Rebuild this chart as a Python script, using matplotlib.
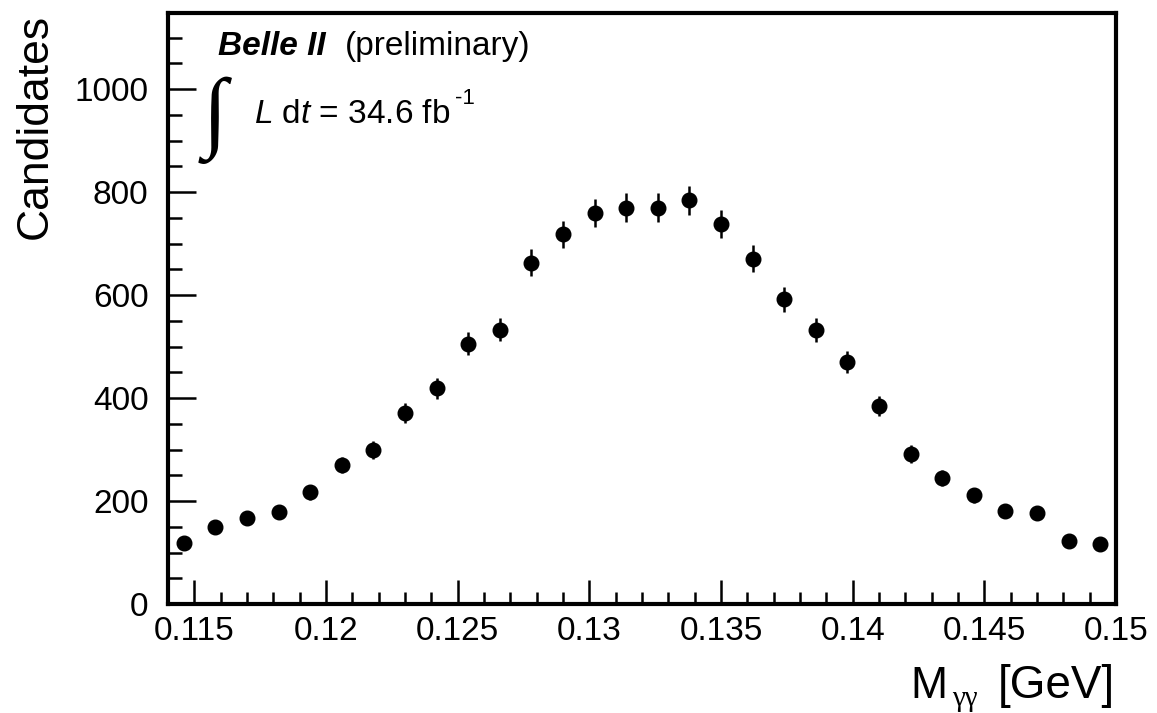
import numpy as np
import matplotlib
matplotlib.use("Agg")
import matplotlib.pyplot as plt
from matplotlib.ticker import MultipleLocator, FixedLocator

plt.rcParams['font.family'] = ['Liberation Sans', 'DejaVu Sans']
plt.rcParams['mathtext.fontset'] = 'custom'
plt.rcParams['mathtext.rm'] = 'Liberation Sans'
plt.rcParams['mathtext.it'] = 'Liberation Sans:italic'
plt.rcParams['mathtext.bf'] = 'Liberation Sans:bold'

# Diphoton invariant mass histogram: 30 bins of 1.2 MeV from 0.114 to 0.150 GeV
bin_lo = 0.114
bin_hi = 0.150
n_bins = 30
candidates = [118, 149, 167, 178, 217, 270, 299, 371, 419, 506,
              533, 663, 718, 760, 770, 770, 784, 739, 671, 592,
              532, 470, 384, 291, 244, 211, 180, 177, 122, 116]

x_major_ticks = [0.115, 0.12, 0.125, 0.13, 0.135, 0.14, 0.145, 0.15]
x_tick_labels = ["0.115", "0.12", "0.125", "0.13", "0.135", "0.14", "0.145", "0.15"]
y_major_ticks = [0, 200, 400, 600, 800, 1000]

edges = np.linspace(bin_lo, bin_hi, n_bins + 1)
centers = 0.5 * (edges[:-1] + edges[1:])
counts = np.array(candidates, dtype=float)
errors = np.sqrt(counts)

W, H = 1157, 713
fig = plt.figure(figsize=(W / 100, H / 100), dpi=100)
ax = fig.add_axes([168 / W, 1 - 604 / H, (1116 - 168) / W, (604 - 13) / H])

ax.errorbar(centers, counts, yerr=errors, fmt='o', color='black',
            markersize=10.5, elinewidth=1.8, capsize=0, zorder=3)

ax.set_xlim(bin_lo, bin_hi)
ax.set_ylim(0, 1148)

ax.xaxis.set_major_locator(FixedLocator(x_major_ticks))
ax.set_xticklabels(x_tick_labels)
ax.xaxis.set_minor_locator(MultipleLocator(0.001))
ax.yaxis.set_major_locator(FixedLocator(y_major_ticks))
ax.yaxis.set_minor_locator(MultipleLocator(50))

ax.tick_params(axis='both', which='both', direction='in', top=False, right=False,
               color='black', width=1.8)
ax.tick_params(axis='x', which='major', length=17, labelsize=24, pad=9)
ax.tick_params(axis='x', which='minor', length=8.5)
ax.tick_params(axis='y', which='major', length=20, labelsize=24, pad=14)
ax.tick_params(axis='y', which='minor', length=10)

for side in ax.spines.values():
    side.set_linewidth(3)
    side.set_color('black')


def px(x, y):
    """Figure fraction from pixel position (origin top-left)."""
    return x / W, 1 - y / H


# Axis titles, anchored to the ends of the axes as in ROOT
fig.text(*px(910, 698), "M", fontsize=32, ha='left', va='baseline')
fig.text(*px(952, 706), "\u03b3\u03b3", fontsize=21,
         family=['Liberation Serif', 'DejaVu Serif'], ha='left', va='baseline')
fig.text(*px(1115, 698), "[GeV]", fontsize=33, ha='right', va='baseline')
fig.text(*px(56, 14), "Candidates", fontsize=32, rotation=90,
         ha='right', va='top')

# Experiment label and integrated luminosity
fig.text(*px(218, 55), "Belle II", fontsize=24, fontweight='bold',
         fontstyle='italic', ha='left', va='baseline')
fig.text(*px(345, 55), "(preliminary)", fontsize=24,
         ha='left', va='baseline')
fig.text(*px(203, 140), "\u222b", fontsize=64,
         family=['Liberation Serif', 'DejaVu Serif'], ha='left', va='baseline')
fig.text(*px(254, 123), r"$\mathit{L}$ d$\mathit{t}$ = 34.6 fb", fontsize=24,
         ha='left', va='baseline')
fig.text(*px(455, 104), "-1", fontsize=16, ha='left', va='baseline')

fig.savefig("out.png", dpi=100)
